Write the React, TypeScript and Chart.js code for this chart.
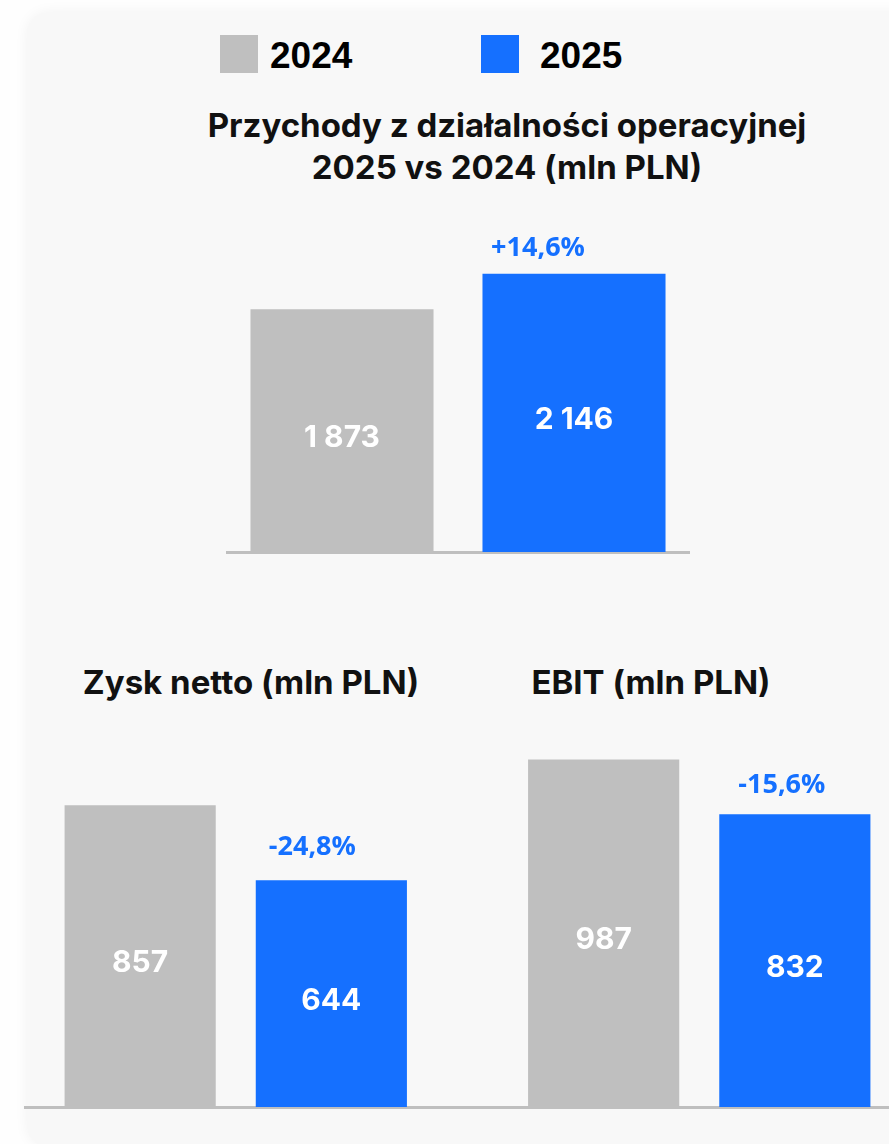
import React, { useEffect, useRef } from 'react';
import { Chart, registerables } from 'chart.js';

Chart.register(...registerables);

// ---- data ----
const seriesNames = ['2024', '2025'];
const revenueLabels = ['2024', '2025'];
const revenueValues = [1873, 2146];
const revenueChanges = ['', '+14,6%'];

const bottomCategories = ['Zysk netto (mln PLN)', 'EBIT (mln PLN)'];
const values2024 = [857, 987];
const values2025 = [644, 832];
const changes2025 = ['-24,8%', '-15,6%'];

const topTitleLines = ['Przychody z działalności operacyjnej', '2025 vs 2024 (mln PLN)'];

// ---- style ----
const GRAY = '#bfbfbf';
const BLUE = '#1570ff';
const TITLE_FONT = 'Inter, "Noto Sans", sans-serif';

const fmt = (n: number) => String(n).replace(/\B(?=(\d{3})+(?!\d))/g, ' ');

const barLabels = {
  id: 'barLabels',
  afterDatasetsDraw(chart: any, _args: any, opts: any) {
    const ctx = chart.ctx;
    chart.data.datasets.forEach((ds: any, di: number) => {
      const meta = chart.getDatasetMeta(di);
      meta.data.forEach((bar: any, i: number) => {
        const { x, y, base } = bar.getProps(['x', 'y', 'base'], true);
        ctx.save();
        ctx.textAlign = 'center';
        ctx.textBaseline = 'middle';
        ctx.fillStyle = '#ffffff';
        ctx.font = opts.valueFont;
        ctx.fillText(fmt(ds.data[i]), x, (y + base) / 2 + opts.valueOffset);
        const ch = opts.changes && opts.changes[di] ? opts.changes[di][i] : '';
        if (ch) {
          const off = opts.changeOffsets[di][i];
          ctx.font = opts.changeFont;
          ctx.fillStyle = BLUE;
          ctx.fillText(ch, x + off[0], y - off[1]);
        }
        ctx.restore();
      });
    });
  },
};

function baseOptions(yMax: number, changes: any, changeOffsets: any) {
  return {
    animation: false as const,
    responsive: false,
    maintainAspectRatio: false,
    devicePixelRatio: 1,
    layout: { padding: { top: 0, bottom: 3, left: 0, right: 0 } },
    plugins: {
      legend: { display: false },
      tooltip: { enabled: false },
      title: { display: false },
      barLabels: {
        valueFont: '700 30px Inter, sans-serif',
        valueOffset: 7,
        changeFont: '700 27px "Open Sans", sans-serif',
        changes,
        changeOffsets,
      },
    },
    scales: {
      x: {
        grid: { display: false, drawTicks: false, tickLength: 0 },
        ticks: { display: false },
        border: { display: true, color: GRAY, width: 3 },
      },
      y: { display: false, min: 0, max: yMax },
    },
  };
}

function useChart(build: () => any) {
  const ref = useRef<HTMLCanvasElement | null>(null);
  useEffect(() => {
    if (!ref.current) return;
    const chart = new Chart(ref.current, build());
    return () => chart.destroy();
  }, []);
  return ref;
}

export default function App() {
  const topRef = useChart(() => ({
    type: 'bar',
    data: {
      labels: revenueLabels,
      datasets: [
        {
          label: 'Przychody',
          data: revenueValues,
          backgroundColor: [GRAY, BLUE],
          barPercentage: 0.789,
          categoryPercentage: 1,
        },
      ],
    },
    options: baseOptions(2700, [revenueChanges], [[[0, 0], [-36, 26]]]),
    plugins: [barLabels],
  }));

  const bottomRef = useChart(() => ({
    type: 'bar',
    data: {
      labels: bottomCategories,
      datasets: [
        { label: seriesNames[0], data: values2024, backgroundColor: GRAY, barPercentage: 0.7906, categoryPercentage: 0.825 },
        { label: seriesNames[1], data: values2025, backgroundColor: BLUE, barPercentage: 0.7906, categoryPercentage: 0.825 },
      ],
    },
    options: baseOptions(1000, [null, changes2025], [null, [[-19, 33], [-13, 29]]]),
    plugins: [barLabels],
  }));

  const abs = (o: any) => ({ position: 'absolute' as const, ...o });
  const titleStyle = {
    fontFamily: TITLE_FONT,
    fontWeight: 700,
    fontSize: 33,
    lineHeight: '42px',
    color: '#111',
    textAlign: 'center' as const,
    whiteSpace: 'nowrap' as const,
  };
  const legendText = {
    fontFamily: '"Liberation Sans", Arial, sans-serif',
    fontWeight: 700,
    fontSize: 37,
    lineHeight: '40px',
    color: '#000',
  };

  return (
    <div style={{ position: 'fixed', left: 0, top: 0, width: 889, height: 1144, overflow: 'hidden', background: '#fefefe' }}>
      <div
        style={abs({
          left: 27,
          top: 12,
          width: 900,
          height: 1135,
          borderRadius: 22,
          background: '#f8f8f8',
          boxShadow: '0 0 14px rgba(0,0,0,0.05)',
        })}
      />
      {/* legend */}
      <div style={abs({ left: 220, top: 35, width: 38, height: 38, background: GRAY })} />
      <div style={abs({ left: 270, top: 36, ...legendText })}>{seriesNames[0]}</div>
      <div style={abs({ left: 481, top: 35, width: 38, height: 38, background: BLUE })} />
      <div style={abs({ left: 540, top: 36, ...legendText })}>{seriesNames[1]}</div>

      {/* top title */}
      <div style={abs({ left: 157, top: 104, width: 700, ...titleStyle })}>
        {topTitleLines[0]}
        <br />
        {topTitleLines[1]}
      </div>

      {/* top chart */}
      <canvas ref={topRef} width={464} height={353} style={abs({ left: 226, top: 202, width: 464, height: 353 })} />

      {/* bottom titles */}
      <div style={abs({ left: 51, top: 661, width: 400, ...titleStyle })}>{bottomCategories[0]}</div>
      <div style={abs({ left: 451, top: 661, width: 400, ...titleStyle })}>{bottomCategories[1]}</div>

      {/* bottom chart */}
      <div style={abs({ left: 24, top: 755, width: 865, height: 356, overflow: 'hidden' })}>
        <canvas ref={bottomRef} width={927} height={355} style={abs({ left: -20, top: 0, width: 927, height: 355 })} />
      </div>
    </div>
  );
}
